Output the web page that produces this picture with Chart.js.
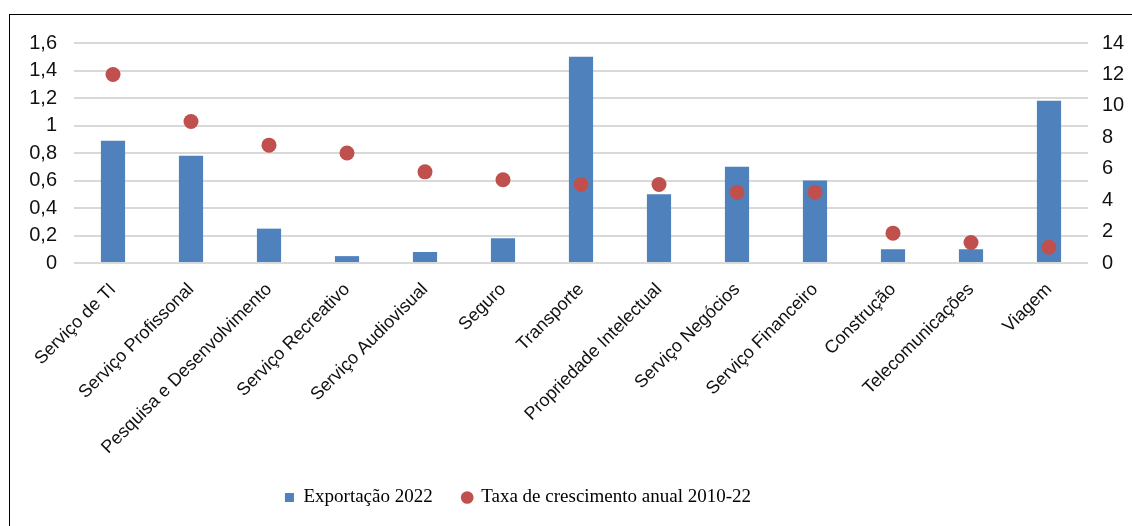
<!DOCTYPE html>
<html lang="pt-BR">
<head>
<meta charset="utf-8">
<title>Exportação de serviços</title>
<script src="https://cdn.jsdelivr.net/npm/chart.js@4/dist/chart.umd.min.js"></script>
<style>
    html, body { margin: 0; padding: 0; background: #fff; overflow: hidden; }
    #wrap { position: relative; width: 1132px; height: 526px; }
    #frame {
        position: absolute; left: 9px; top: 14px;
        width: 1200px; height: 600px;
        border: 1px solid #000; box-sizing: border-box;
    }
    #chart { position: absolute; left: 0; top: 0; }
</style>
</head>
<body>
<div id="wrap">
    <div id="frame"></div>
    <canvas id="chart" width="1132" height="526"></canvas>
</div>
<script>
const categories = [
    'Serviço de TI', 'Serviço Profissonal', 'Pesquisa e Desenvolvimento',
    'Serviço Recreativo', 'Serviço Audiovisual', 'Seguro', 'Transporte',
    'Propriedade Intelectual', 'Serviço Negócios', 'Serviço Financeiro',
    'Construção', 'Telecomunicações', 'Viagem'
];
const exportValues = [0.89, 0.78, 0.25, 0.05, 0.08, 0.18, 1.5, 0.5, 0.7, 0.6, 0.1, 0.1, 1.18];
const growthRates = [12, 9, 7.5, 7, 5.8, 5.3, 5.0, 5.0, 4.5, 4.5, 1.9, 1.3, 1.0];
const leftTickLabels = ['0', '0,2', '0,4', '0,6', '0,8', '1', '1,2', '1,4', '1,6'];
const rightTickLabels = ['0', '2', '4', '6', '8', '10', '12', '14'];

const BLUE = '#4f81bd';
const RED = '#c0504d';
const SANS = "'Liberation Sans', Arial, sans-serif";
const SERIF = "'Liberation Serif', 'Times New Roman', serif";

// shift the legend a bit to the left of the canvas centre
const legendShift = {
    id: 'legendShift',
    afterLayout(chart) {
        chart.legend.left -= 48;
        chart.legend.right -= 48;
    }
};

const ctx = document.getElementById('chart').getContext('2d');
new Chart(ctx, {
    type: 'bar',
    data: {
        labels: categories,
        datasets: [{
            label: 'Exportação 2022',
            data: exportValues,
            backgroundColor: BLUE,
            pointStyle: 'rect',
            barPercentage: 0.31,
            categoryPercentage: 1,
            yAxisID: 'y',
            order: 2
        },
        {
            type: 'line',
            label: 'Taxa de crescimento anual 2010-22',
            data: growthRates,
            showLine: false,
            pointStyle: 'circle',
            pointRadius: 7.5,
            pointHoverRadius: 7.5,
            pointBackgroundColor: RED,
            pointBorderWidth: 0,
            backgroundColor: RED,
            borderColor: RED,
            yAxisID: 'y1',
            order: 1
        }]
    },
    options: {
        responsive: false,
        animation: false,
        layout: { padding: { top: 43, left: 0, right: 0, bottom: 9 } },
        plugins: {
            tooltip: { enabled: false },
            legend: {
                position: 'bottom',
                labels: {
                    usePointStyle: true,
                    boxWidth: 9,
                    boxHeight: 9,
                    padding: 30,
                    color: '#000',
                    font: { family: SERIF, size: 19 },
                    sort: (a, b) => a.datasetIndex - b.datasetIndex
                }
            }
        },
        scales: {
            x: {
                grid: { display: false, drawTicks: false },
                border: { display: false },
                ticks: {
                    autoSkip: false,
                    minRotation: 45,
                    maxRotation: 45,
                    padding: 16,
                    color: '#111',
                    font: { family: SANS, size: 18 }
                },
                afterFit: (axis) => { axis.height = 195; }
            },
            y: {
                position: 'left',
                min: 0,
                max: 1.6,
                grid: { color: '#d9d9d9', lineWidth: 2, drawTicks: false },
                border: { display: false },
                ticks: {
                    stepSize: 0.2,
                    padding: 17,
                    color: '#111',
                    font: { family: SANS, size: 20 },
                    callback: (value, index) => leftTickLabels[index]
                },
                afterFit: (axis) => { axis.width = 74; }
            },
            y1: {
                position: 'right',
                min: 0,
                max: 14,
                grid: { display: false, drawTicks: false },
                border: { display: false },
                ticks: {
                    stepSize: 2,
                    padding: 14,
                    color: '#111',
                    font: { family: SANS, size: 20 },
                    callback: (value, index) => rightTickLabels[index]
                },
                afterFit: (axis) => { axis.width = 44; }
            }
        }
    },
    plugins: [legendShift]
});
</script>
</body>
</html>
